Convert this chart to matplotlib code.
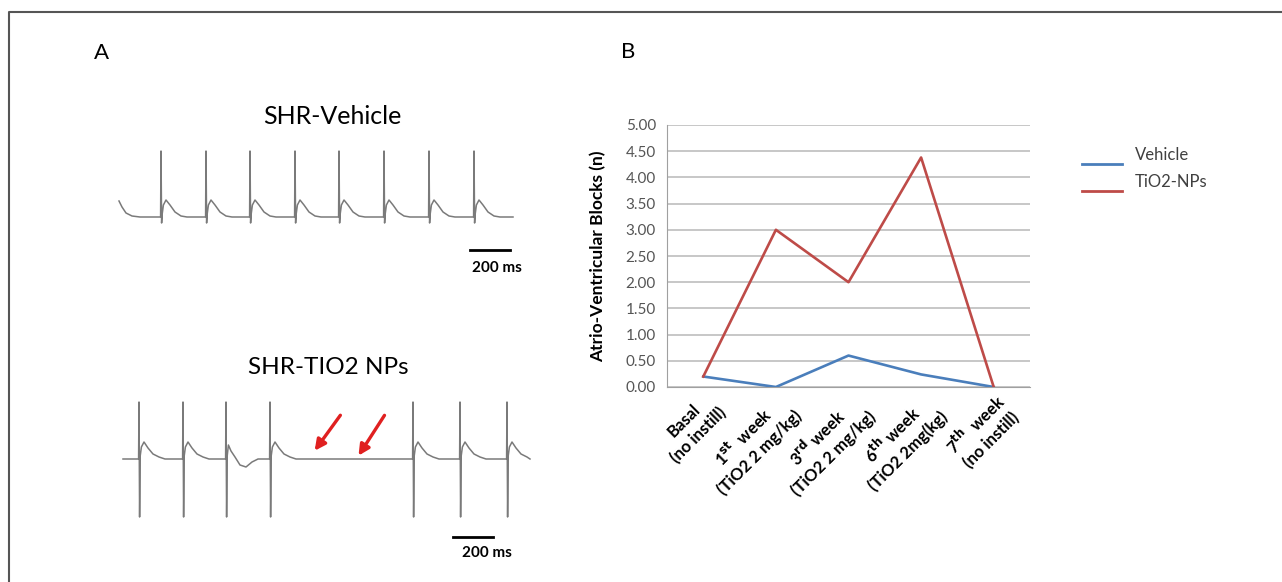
import numpy as np
import matplotlib
matplotlib.use("Agg")
import matplotlib.pyplot as plt

plt.rcParams['font.family'] = ['Lato', 'DejaVu Sans']

# ---- panel B data ----
categories = ["Basal\n(no instill)",
              r"1$^{\mathbf{st}}$  week" + "\n(TiO2 2 mg/kg)",
              r"3$^{\mathbf{rd}}$ week" + "\n(TiO2 2 mg/kg)",
              r"6$^{\mathbf{th}}$ week" + "\n(TiO2 2mg(kg)",
              r"7$^{\mathbf{th}}$  week" + "\n(no instill)"]
vehicle = [0.20, 0.00, 0.60, 0.24, 0.00]
tio2 = [0.20, 3.00, 2.00, 4.38, 0.00]
y_ticks = [0.0, 0.5, 1.0, 1.5, 2.0, 2.5, 3.0, 3.5, 4.0, 4.5, 5.0]
series_names = ["Vehicle", "TiO2-NPs"]

# ---- panel A data (ms, arbitrary amplitude) ----
# beat template: time offset from R peak, amplitude
beat_t = [-12, -2, 0, 3, 6, 12, 25, 45, 70, 100, 130, 160]
beat_v1 = [0, 0, 66, -6, 3, 12, 17, 12, 5, 1, 0, 0]
beat_v2 = [0, 0, 57, -58, 3, 12, 17, 11, 5, 2, 0, 0]
beat_v2_noisy = [0, 0, 57, -58, 3, 14, 8, 2, -6, -8, -3, 0]
veh_beats = [305, 530, 750, 975, 1195, 1420, 1645, 1870]
veh_start, veh_end = 95, 2065
veh_head_t = [95, 110, 130, 160, 200]
veh_head_v = [16, 10, 4, 1, 0]
tio_beats = [195, 415, 630, 850, 1565, 1800, 2035]
tio_noisy_beat = 630
tio_start, tio_end = 115, 2150

blue = "#4a7ebb"
red = "#be4b48"
trace_col = "#7a7a7a"

fig = plt.figure(figsize=(12.82, 5.82), dpi=100)
W, H = 1282, 582


def add_ax(x0, y0, x1, y1):
    # pixel box (top-left origin) -> figure axes
    return fig.add_axes([x0 / W, 1 - y1 / H, (x1 - x0) / W, (y1 - y0) / H])


def build_trace(beats, amp, start, end, head_t=None, head_v=None, special=None):
    t, v = [], []
    if head_t is not None:
        t += head_t
        v += head_v
    else:
        t.append(start)
        v.append(0)
    for b in beats:
        a_list = amp
        if special is not None and b in special:
            a_list = special[b]
        for dt, a in zip(beat_t, a_list):
            tt = b + dt
            if start <= tt <= end:
                t.append(tt)
                v.append(a)
    t.append(end)
    v.append(0)
    order = np.argsort(t, kind="stable")
    return np.array(t)[order], np.array(v)[order]


# frame and free text
border = fig.add_axes([0, 0, 1, 1])
border.set_xlim(0, W)
border.set_ylim(H, 0)
border.axis("off")
border.plot([8.5, 8.5, W], [H, 12, 12], color="#555555", lw=1.5)
border.text(101, 53, "A", fontsize=16, ha="center", va="center")
border.text(628, 52, "B", fontsize=16, ha="center", va="center")
border.text(332, 116, "SHR-Vehicle", fontsize=18, ha="center", va="center")
border.text(328, 367, "SHR-TIO2 NPs", fontsize=17.5, ha="center", va="center")

# legend drawn by hand
for i, (name, col) in enumerate(zip(series_names, [blue, red])):
    yy = 164 + i * 27
    border.plot([1082, 1122], [yy, yy], color=col, lw=2)
    border.text(1135, yy - 9, name, fontsize=12, color="#404040", ha="left", va="center")

# trace 1
ax1 = add_ax(100, 140, 540, 280)
t1, v1 = build_trace(veh_beats, beat_v1, veh_start, veh_end, veh_head_t, veh_head_v)
ax1.plot(t1, v1, color=trace_col, lw=1.1)
ax1.plot([1850, 2050], [-33, -33], color="black", lw=2)
ax1.text(1985, -51, "200 ms", fontsize=11, fontweight="bold", ha="center", va="center")
ax1.set_xlim(0, 2200)
ax1.set_ylim(-63, 77)
ax1.axis("off")

# trace 2
ax2 = add_ax(100, 390, 540, 570)
t2, v2 = build_trace(tio_beats, beat_v2, tio_start, tio_end,
                     special={tio_noisy_beat: beat_v2_noisy})
ax2.plot(t2, v2, color=trace_col, lw=1.1)
ax2.annotate("", xy=(1065, 6), xytext=(1210, 46),
             arrowprops=dict(arrowstyle="-|>", color="#e02020", lw=2.4, mutation_scale=16))
ax2.annotate("", xy=(1285, 1), xytext=(1430, 46),
             arrowprops=dict(arrowstyle="-|>", color="#e02020", lw=2.4, mutation_scale=16))
ax2.plot([1765, 1965], [-78, -78], color="black", lw=2)
ax2.text(1935, -94, "200 ms", fontsize=11, fontweight="bold", ha="center", va="center")
ax2.set_xlim(0, 2200)
ax2.set_ylim(-111, 69)
ax2.axis("off")

# panel B
axb = add_ax(667, 125, 1030, 387)
x = np.arange(len(categories))
axb.plot(x, vehicle, color=blue, lw=1.9, zorder=3)
axb.plot(x, tio2, color=red, lw=1.9, zorder=3)
axb.set_xlim(-0.5, len(categories) - 0.5)
axb.set_ylim(0, 5)
axb.set_yticks(y_ticks)
axb.set_yticklabels([f"{v:.2f}" for v in y_ticks], fontsize=11, color="#555555")
axb.yaxis.grid(True, color="#bdbdbd", lw=1.2)
axb.set_axisbelow(True)
for s in ["top", "right"]:
    axb.spines[s].set_visible(False)
axb.spines["left"].set_color("#a0a0a0")
axb.spines["bottom"].set_color("#a0a0a0")
axb.tick_params(axis="y", length=0, pad=8)
axb.tick_params(axis="x", length=0, pad=2)
axb.set_xticks(x)
axb.set_xticklabels(categories, rotation=45, ha="right", va="top",
                    rotation_mode="anchor", fontsize=12, fontweight="bold",
                    multialignment="center", linespacing=1.35)
axb.set_ylabel("Atrio-Ventricular Blocks (n)", fontsize=12.5, fontweight="bold", labelpad=14)

fig.savefig("out.png", dpi=100)
